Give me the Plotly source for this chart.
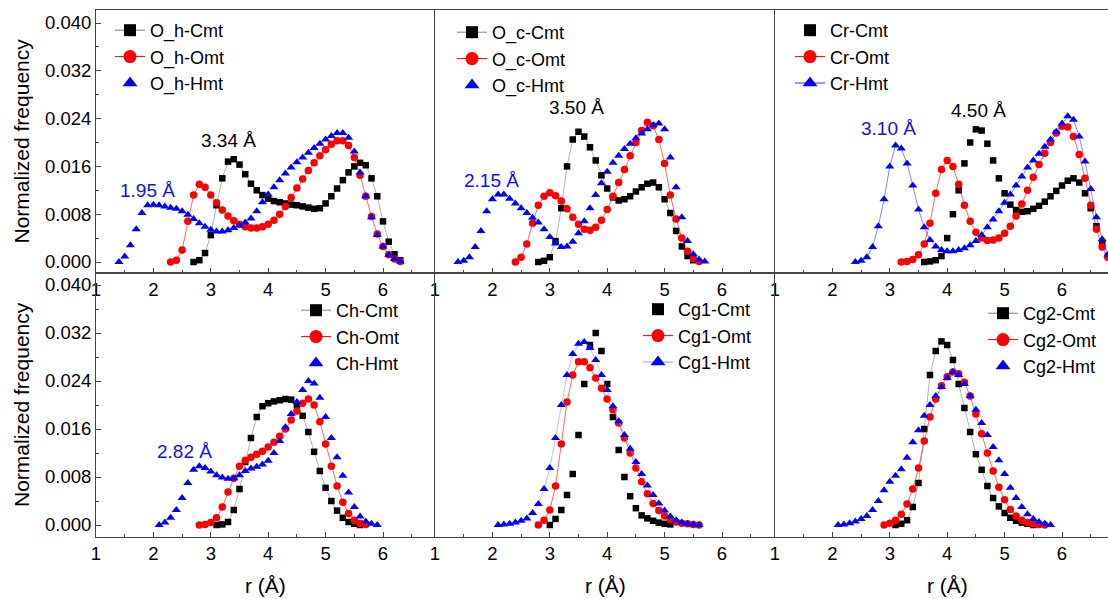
import numpy as np
import plotly.graph_objects as go
from plotly.subplots import make_subplots

STEP = 0.1

# ---------------- data (r in Angstrom, normalized frequency) ----------------
# O_h panel
R_OH_CMT = 2.7
OH_CMT = [0.0000, 0.0003, 0.0015, 0.0045, 0.0095, 0.0140, 0.0168, 0.0172, 0.0163, 0.0147,
          0.0131, 0.0120, 0.0112, 0.0106, 0.0102, 0.0100, 0.0098, 0.0096, 0.0095, 0.0093,
          0.0091, 0.0089, 0.0090, 0.0098, 0.0110, 0.0123, 0.0137, 0.0150, 0.0160, 0.0166,
          0.0162, 0.0140, 0.0110, 0.0068, 0.0034, 0.0013, 0.0003]
R_OH_OMT = 2.3
OH_OMT = [0.0000, 0.0003, 0.0020, 0.0068, 0.0112, 0.0130, 0.0125, 0.0112, 0.0099, 0.0087,
          0.0077, 0.0069, 0.0063, 0.0059, 0.0057, 0.0057, 0.0059, 0.0063, 0.0070, 0.0080,
          0.0093, 0.0108, 0.0124, 0.0139, 0.0153, 0.0166, 0.0178, 0.0188, 0.0197, 0.0203,
          0.0203, 0.0195, 0.0175, 0.0145, 0.0110, 0.0076, 0.0047, 0.0026, 0.0012, 0.0005,
          0.0001]
R_OH_HMT = 1.4
OH_HMT = [0.0000, 0.0009, 0.0028, 0.0055, 0.0082, 0.0095, 0.0096, 0.0095, 0.0093, 0.0091,
          0.0089, 0.0085, 0.0079, 0.0072, 0.0065, 0.0059, 0.0054, 0.0051, 0.0051, 0.0053,
          0.0057, 0.0061, 0.0066, 0.0073, 0.0085, 0.0100, 0.0113, 0.0125, 0.0137, 0.0148,
          0.0158, 0.0167, 0.0175, 0.0183, 0.0191, 0.0198, 0.0205, 0.0211, 0.0216, 0.0216,
          0.0208, 0.0185, 0.0150, 0.0110, 0.0075, 0.0045, 0.0026, 0.0012, 0.0005, 0.0001]

# O_c panel
R_OC_CMT = 2.8
OC_CMT = [0.0000, 0.0002, 0.0008, 0.0035, 0.0090, 0.0160, 0.0205, 0.0218, 0.0210, 0.0192,
          0.0170, 0.0145, 0.0123, 0.0108, 0.0103, 0.0105, 0.0110, 0.0118, 0.0125, 0.0131,
          0.0133, 0.0125, 0.0105, 0.0082, 0.0052, 0.0026, 0.0010, 0.0003]
R_OC_OMT = 2.4
OC_OMT = [0.0000, 0.0008, 0.0030, 0.0065, 0.0095, 0.0110, 0.0116, 0.0111, 0.0102, 0.0089,
          0.0075, 0.0063, 0.0055, 0.0053, 0.0058, 0.0070, 0.0088, 0.0110, 0.0133, 0.0155,
          0.0178, 0.0200, 0.0220, 0.0234, 0.0228, 0.0205, 0.0165, 0.0112, 0.0072, 0.0040,
          0.0018, 0.0006, 0.0001]
R_OC_HMT = 1.4
OC_HMT = [0.0000, 0.0002, 0.0008, 0.0025, 0.0052, 0.0085, 0.0105, 0.0113, 0.0113, 0.0106,
          0.0098, 0.0090, 0.0082, 0.0074, 0.0066, 0.0055, 0.0042, 0.0031, 0.0025, 0.0026,
          0.0034, 0.0048, 0.0068, 0.0090, 0.0112, 0.0132, 0.0151, 0.0166, 0.0178, 0.0189,
          0.0198, 0.0207, 0.0215, 0.0222, 0.0229, 0.0232, 0.0222, 0.0175, 0.0125, 0.0075,
          0.0035, 0.0013, 0.0004, 0.0001]

# Cr panel
R_CR_CMT = 3.6
CR_CMT = [0.0000, 0.0001, 0.0003, 0.0010, 0.0040, 0.0080, 0.0120, 0.0165, 0.0200, 0.0222,
          0.0220, 0.0198, 0.0170, 0.0140, 0.0115, 0.0096, 0.0087, 0.0084, 0.0085, 0.0089,
          0.0094, 0.0101, 0.0110, 0.0119, 0.0128, 0.0136, 0.0140, 0.0133, 0.0115, 0.0090,
          0.0060, 0.0030, 0.0010]
R_CR_OMT = 3.2
CR_OMT = [0.0000, 0.0001, 0.0004, 0.0012, 0.0030, 0.0065, 0.0115, 0.0155, 0.0170, 0.0160,
          0.0130, 0.0095, 0.0068, 0.0050, 0.0040, 0.0036, 0.0037, 0.0040, 0.0048, 0.0060,
          0.0077, 0.0097, 0.0120, 0.0142, 0.0163, 0.0182, 0.0200, 0.0216, 0.0227, 0.0226,
          0.0210, 0.0180, 0.0140, 0.0095, 0.0055, 0.0025, 0.0008]
R_CR_HMT = 2.4
CR_HMT = [0.0000, 0.0002, 0.0008, 0.0025, 0.0060, 0.0105, 0.0160, 0.0195, 0.0190, 0.0165,
          0.0128, 0.0088, 0.0058, 0.0037, 0.0026, 0.0020, 0.0018, 0.0018, 0.0020, 0.0023,
          0.0028, 0.0035, 0.0045, 0.0058, 0.0071, 0.0085, 0.0099, 0.0113, 0.0128, 0.0143,
          0.0158, 0.0170, 0.0181, 0.0193, 0.0205, 0.0218, 0.0232, 0.0244, 0.0238, 0.0210,
          0.0168, 0.0122, 0.0075, 0.0038, 0.0012]

# Ch panel
R_CH_CMT = 3.1
CH_CMT = [0.0000, 0.0001, 0.0005, 0.0025, 0.0060, 0.0105, 0.0145, 0.0180, 0.0198, 0.0203,
          0.0206, 0.0208, 0.0210, 0.0209, 0.0200, 0.0182, 0.0155, 0.0122, 0.0090, 0.0062,
          0.0040, 0.0024, 0.0012, 0.0005, 0.0002, 0.0000]
R_CH_OMT = 2.8
CH_OMT = [0.0000, 0.0001, 0.0004, 0.0012, 0.0030, 0.0055, 0.0078, 0.0098, 0.0108, 0.0113,
          0.0118, 0.0123, 0.0130, 0.0138, 0.0148, 0.0160, 0.0175, 0.0190, 0.0203, 0.0210,
          0.0200, 0.0172, 0.0135, 0.0098, 0.0065, 0.0038, 0.0019, 0.0008, 0.0003, 0.0001]
R_CH_HMT = 2.1
CH_HMT = [0.0000, 0.0004, 0.0012, 0.0025, 0.0045, 0.0070, 0.0092, 0.0098, 0.0095, 0.0089,
          0.0083, 0.0079, 0.0077, 0.0078, 0.0083, 0.0090, 0.0094, 0.0097, 0.0101, 0.0107,
          0.0120, 0.0140, 0.0163, 0.0185, 0.0205, 0.0225, 0.0240, 0.0236, 0.0212, 0.0180,
          0.0145, 0.0113, 0.0082, 0.0054, 0.0030, 0.0014, 0.0006, 0.0002, 0.0000]

# Cg1 panel
R_CG1_CMT = 3.0
CG1_CMT = [0.0000, 0.0010, 0.0025, 0.0050, 0.0085, 0.0150, 0.0235, 0.0300, 0.0320, 0.0290,
           0.0235, 0.0180, 0.0125, 0.0080, 0.0048, 0.0028, 0.0016, 0.0011, 0.0007, 0.0004,
           0.0002, 0.0001]
R_CG1_OMT = 2.8
CG1_OMT = [0.0000, 0.0008, 0.0025, 0.0065, 0.0135, 0.0205, 0.0250, 0.0272, 0.0272, 0.0262,
           0.0245, 0.0228, 0.0210, 0.0192, 0.0170, 0.0145, 0.0120, 0.0095, 0.0072, 0.0052,
           0.0036, 0.0024, 0.0015, 0.0009, 0.0005, 0.0003, 0.0002, 0.0001, 0.0000]
R_CG1_HMT = 2.1
CG1_HMT = [0.0000, 0.0001, 0.0002, 0.0004, 0.0007, 0.0011, 0.0020, 0.0035, 0.0060, 0.0095,
           0.0145, 0.0200, 0.0250, 0.0285, 0.0302, 0.0305, 0.0295, 0.0275, 0.0250, 0.0225,
           0.0198, 0.0173, 0.0150, 0.0127, 0.0105, 0.0085, 0.0066, 0.0050, 0.0036, 0.0024,
           0.0014, 0.0008, 0.0004, 0.0002, 0.0001, 0.0000]

# Cg2 panel
R_CG2_CMT = 3.1
CG2_CMT = [0.0000, 0.0002, 0.0008, 0.0030, 0.0070, 0.0160, 0.0250, 0.0290, 0.0306, 0.0300,
           0.0275, 0.0235, 0.0195, 0.0155, 0.0118, 0.0092, 0.0065, 0.0045, 0.0031, 0.0020,
           0.0012, 0.0007, 0.0004, 0.0002, 0.0000]
R_CG2_OMT = 2.9
CG2_OMT = [0.0000, 0.0003, 0.0008, 0.0018, 0.0035, 0.0060, 0.0095, 0.0140, 0.0180, 0.0210,
           0.0232, 0.0247, 0.0255, 0.0252, 0.0238, 0.0215, 0.0185, 0.0152, 0.0120, 0.0090,
           0.0063, 0.0042, 0.0026, 0.0015, 0.0008, 0.0004, 0.0002, 0.0001, 0.0000]
R_CG2_HMT = 2.1
CG2_HMT = [0.0000, 0.0001, 0.0003, 0.0006, 0.0010, 0.0015, 0.0025, 0.0040, 0.0058, 0.0072,
           0.0082, 0.0093, 0.0112, 0.0138, 0.0158, 0.0182, 0.0200, 0.0215, 0.0230, 0.0245,
           0.0255, 0.0250, 0.0235, 0.0215, 0.0192, 0.0170, 0.0150, 0.0130, 0.0108, 0.0085,
           0.0062, 0.0045, 0.0030, 0.0018, 0.0010, 0.0005, 0.0002, 0.0000]

PANELS = [
    ("O_h", [(R_OH_CMT, OH_CMT), (R_OH_OMT, OH_OMT), (R_OH_HMT, OH_HMT)]),
    ("O_c", [(R_OC_CMT, OC_CMT), (R_OC_OMT, OC_OMT), (R_OC_HMT, OC_HMT)]),
    ("Cr", [(R_CR_CMT, CR_CMT), (R_CR_OMT, CR_OMT), (R_CR_HMT, CR_HMT)]),
    ("Ch", [(R_CH_CMT, CH_CMT), (R_CH_OMT, CH_OMT), (R_CH_HMT, CH_HMT)]),
    ("Cg1", [(R_CG1_CMT, CG1_CMT), (R_CG1_OMT, CG1_OMT), (R_CG1_HMT, CG1_HMT)]),
    ("Cg2", [(R_CG2_CMT, CG2_CMT), (R_CG2_OMT, CG2_OMT), (R_CG2_HMT, CG2_HMT)]),
]
SUFFIXES = ["Cmt", "Omt", "Hmt"]

# whether the legend shows a connecting line for each series
SHOW_LINE = [
    [True, True, False],
    [True, True, False],
    [False, True, True],
    [True, True, False],
    [False, True, True],
    [True, True, False],
]
HMT_LINE_COLOR = ["#0000ff", "#0000ff", "#3333ff", "#0000ff", "#9999ee", "#0000ff"]

PEAK_LABELS = [
    # (panel index, text, r, value, colour)
    (0, "3.34 Å", 3.30, 0.0204, "#000000"),
    (0, "1.95 Å", 1.89, 0.0120, "#1010ee"),
    (1, "3.50 Å", 3.46, 0.0258, "#000000"),
    (1, "2.15 Å", 1.99, 0.0137, "#1010ee"),
    (2, "4.50 Å", 4.54, 0.0254, "#000000"),
    (2, "3.10 Å", 2.97, 0.0224, "#1010ee"),
    (3, "2.82 Å", 2.55, 0.0122, "#1010ee"),
]

# ---------------- layout geometry ----------------
W, H = 1108, 599
ML, MR, MT, MB = 96, 0, 10, 62
COL_W = [339, 340, 333]
ROW_H = [263, 264]
PX_PER_A = 57.4
PW, PH = W - ML - MR, H - MT - MB

FONT = "Liberation Sans, Arial, sans-serif"

fig = make_subplots(rows=2, cols=3, horizontal_spacing=0, vertical_spacing=0,
                    column_widths=COL_W, row_heights=ROW_H)

colors = ["#000000", "#ff0000", "#0000ff"]
symbols = ["square", "circle", "triangle-up"]
msizes = [6.5, 7.5, 8]
leg_sizes = [12, 13, 13]
line_cols = ["#808080", "#ff0000", None]

for p, (name, series) in enumerate(PANELS):
    row, col = p // 3 + 1, p % 3 + 1
    leg = "legend" if p == 0 else f"legend{p + 1}"
    for k, (r0, vals) in enumerate(series):
        r = np.round(r0 + STEP * np.arange(len(vals)), 2)
        lc = line_cols[k] if k < 2 else HMT_LINE_COLOR[p]
        mode = "lines+markers" if SHOW_LINE[p][k] else "markers"
        fig.add_trace(go.Scatter(
            x=r, y=vals, name=f"{name}-{SUFFIXES[k]}", mode=mode,
            line=dict(color=lc, width=0.6),
            marker=dict(symbol=symbols[k], size=msizes[k], color=colors[k], line=dict(width=0)),
            showlegend=False,
        ), row=row, col=col)
        # legend entry (same style, larger key symbol)
        fig.add_trace(go.Scatter(
            x=[None], y=[None], name=f"{name}-{SUFFIXES[k]}", mode=mode,
            line=dict(color=lc, width=1),
            marker=dict(symbol=symbols[k], size=leg_sizes[k], color=colors[k], line=dict(width=0)),
            legend=leg, showlegend=True, hoverinfo="skip",
        ), row=row, col=col)

# axes
AX_COL = "#444444"
for p in range(6):
    row, col = p // 3 + 1, p % 3 + 1
    xmax = 1 + COL_W[col - 1] / PX_PER_A
    fig.update_xaxes(range=[1, xmax], dtick=1, tick0=0, ticks="inside", ticklen=5,
                     tickcolor=AX_COL, showline=True, linecolor=AX_COL, linewidth=1,
                     mirror=True, showgrid=False, zeroline=False,
                     minor=dict(ticks="inside", ticklen=3, dtick=0.5, tickcolor=AX_COL),
                     tickfont=dict(family=FONT, size=18.5, color="#000"),
                     row=row, col=col)
    if row == 1:
        yr = [-(ROW_H[0] - 252) / 5975, 252 / 5975]
    else:
        yr = [-12 / 6000, 252 / 6000]
    fig.update_yaxes(range=yr, dtick=0.008, tick0=0, tickformat=".3f",
                     ticks="inside" if col == 1 else "", ticklen=5, tickcolor=AX_COL,
                     showticklabels=(col == 1), showline=True, linecolor=AX_COL, linewidth=1,
                     mirror=False, showgrid=False, zeroline=False,
                     minor=dict(ticks="inside" if col == 1 else "", ticklen=3, dtick=0.004,
                                tickcolor=AX_COL),
                     tickfont=dict(family=FONT, size=18.5, color="#000"),
                     row=row, col=col)


def px_to_paper(px, py):
    return (px - ML) / PW, 1 - (py - MT) / PH


annotations = []
axis_refs = [("x", "y"), ("x2", "y2"), ("x3", "y3"), ("x4", "y4"), ("x5", "y5"), ("x6", "y6")]
for p, text, rx, vy, c in PEAK_LABELS:
    xr, yr_ = axis_refs[p]
    annotations.append(dict(x=rx, y=vy, xref=xr, yref=yr_, text=text, showarrow=False,
                            font=dict(family=FONT, size=19, color=c),
                            xanchor="center", yanchor="middle"))

# axis titles
for cy in [(MT + MT + ROW_H[0]) / 2, MT + ROW_H[0] + ROW_H[1] / 2]:
    x, y = px_to_paper(21, cy)
    annotations.append(dict(x=x, y=y, xref="paper", yref="paper", text="Normalized frequency",
                            textangle=-90, showarrow=False,
                            font=dict(family=FONT, size=21, color="#000"),
                            xanchor="center", yanchor="middle"))
for cx in [265.5, 605, 947]:
    x, y = px_to_paper(cx, 585)
    annotations.append(dict(x=x, y=y, xref="paper", yref="paper", text="r (Å)",
                            showarrow=False, font=dict(family=FONT, size=21, color="#000"),
                            xanchor="center", yanchor="middle"))

# legends
LEG_POS = [(110, 12), (452, 14), (790, 12), (296, 292), (638, 291), (983, 295)]
legend_layout = {}
for p, (lx, ly) in enumerate(LEG_POS):
    x, y = px_to_paper(lx, ly)
    key = "legend" if p == 0 else f"legend{p + 1}"
    legend_layout[key] = dict(x=x, y=y, xanchor="left", yanchor="top",
                              bgcolor="rgba(0,0,0,0)", borderwidth=0,
                              font=dict(family=FONT, size=18, color="#000"),
                              itemsizing="trace", tracegroupgap=0)

fig.update_layout(width=W, height=H, margin=dict(l=ML, r=MR, t=MT, b=MB),
                  paper_bgcolor="white", plot_bgcolor="white",
                  annotations=annotations, **legend_layout)

fig.write_html("out.html", config={"displayModeBar": False},
               post_script="document.body.style.margin='0px';document.body.style.overflow='hidden';")
